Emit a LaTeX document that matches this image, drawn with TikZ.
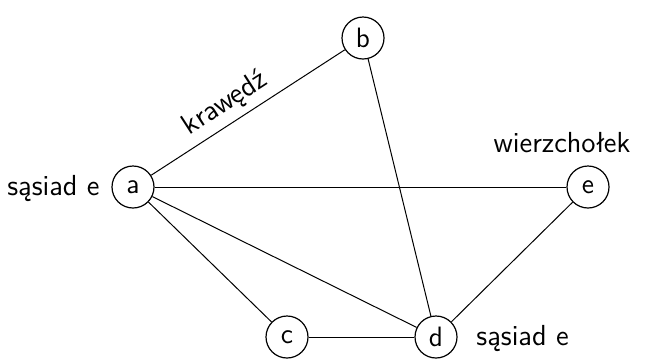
\documentclass[tikz,border=0pt]{standalone}
\usepackage{fontspec}
\begin{document}
\begin{tikzpicture}[x=0.5pt,y=-0.5pt,
  vertex/.style={circle,draw,line width=0.6pt,minimum size=21pt,inner sep=0pt,font=\sffamily\fontsize{14}{16}\selectfont},
  note/.style={font=\sffamily\fontsize{14.5}{17}\selectfont,inner sep=1pt},
  edge/.style={line width=0.5pt}]
\useasboundingbox (0,0) rectangle (663,361);
\node[vertex] (a) at (133,187) {a};
\node[vertex] (b) at (363,38) {b};
\node[vertex] (e) at (588,187) {e};
\node[vertex] (c) at (287,337) {c};
\node[vertex] (d) at (436,337) {d};
\draw[edge] (a) -- node[note,pos=0.44,above=2pt,sloped] {krawędź} (b);
\draw[edge] (a) -- (e);
\draw[edge] (a) -- (c);
\draw[edge] (a) -- (d);
\draw[edge] (b) -- (d);
\draw[edge] (c) -- (d);
\draw[edge] (e) -- (d);
\node[note,anchor=east] (na) at (102,188) {sąsiad e};
\node[note] (ne) at (562,143) {wierzchołek};
\node[note,anchor=west] (nd) at (474,338) {sąsiad e};
\end{tikzpicture}
\end{document}
